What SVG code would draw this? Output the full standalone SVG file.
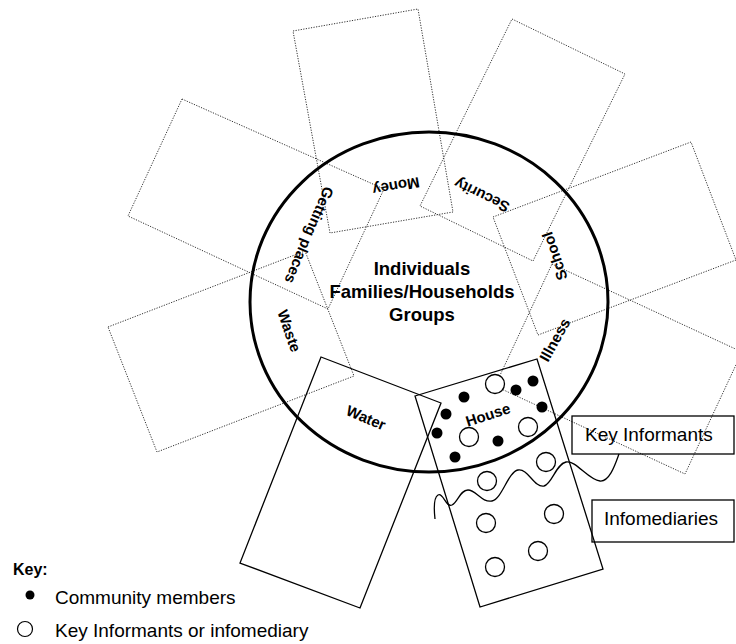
<svg xmlns="http://www.w3.org/2000/svg" width="736" height="644" viewBox="0 0 736 644">
<style>
.dot{fill:none;stroke:#333;stroke-width:1;stroke-dasharray:1.2 1.4}
.solid{fill:none;stroke:#000;stroke-width:1.3}
.lbl{font-family:"Liberation Sans",Arial,sans-serif;font-weight:bold;font-size:15px;text-anchor:middle;fill:#000}
.ctr{font-family:"Liberation Sans",Arial,sans-serif;font-weight:bold;font-size:18.5px;text-anchor:middle;fill:#000}
.txt{font-family:"Liberation Sans",Arial,sans-serif;font-size:19px;fill:#000}
.cm{fill:#000}
.ki{fill:#fff;stroke:#000;stroke-width:1.3}
</style>
<rect width="736" height="644" fill="#fff"/>
<g id="money"><polygon class="dot" points="293,31 418,9 453,212 330,233"/><text class="lbl" transform="translate(396,186) rotate(170)" y="5">Money</text></g>
<g id="security"><polygon class="dot" points="512,19 625,74 533,261 420,206"/><text class="lbl" transform="translate(482,195) rotate(206)" y="5">Security</text></g>
<g id="school"><polygon class="dot" points="493,217 691,142 736,260 538,335"/><text class="lbl" transform="translate(555,256) rotate(-109)" y="5">School</text></g>
<g id="illness"><polygon class="dot" points="552,264 742,352 685,474 495,386"/><text class="lbl" transform="translate(555,340) rotate(-61)" y="5">Illness</text></g>
<g id="getting-places"><polygon class="dot" points="182,99 384,189 328,309 128,216"/><text class="lbl" transform="translate(309,235) rotate(113)" y="5">Getting places</text></g>
<g id="waste"><polygon class="dot" points="108,327 305,251 354,376 157,452"/><text class="lbl" transform="translate(289,331) rotate(71)" y="5">Waste</text></g>
<g id="community"><ellipse cx="429" cy="302" rx="179" ry="170" fill="none" stroke="#000" stroke-width="3"/>
<text class="ctr" x="422" y="275">Individuals</text>
<text class="ctr" x="422" y="298">Families/Households</text>
<text class="ctr" x="422" y="321">Groups</text></g>
<g id="water"><polygon class="solid" points="321,357 441,403 360,608 240,563"/><text class="lbl" transform="translate(366,418) rotate(23)" y="5">Water</text></g>
<g id="house"><polygon class="solid" points="415,396 537,359 603,569 480,607"/>
<g id="members">
<circle class="cm" cx="464" cy="397" r="5.5"/><circle class="cm" cx="446" cy="414" r="5.5"/><circle class="cm" cx="437" cy="433" r="5.5"/><circle class="cm" cx="455" cy="457" r="5.5"/><circle class="cm" cx="498" cy="441" r="5.5"/><circle class="cm" cx="516" cy="390" r="5.5"/><circle class="cm" cx="533" cy="381" r="5.5"/><circle class="cm" cx="542" cy="407" r="5.5"/>
</g>
<g id="informants">
<circle class="ki" cx="495" cy="384" r="9.5"/><circle class="ki" cx="469" cy="437" r="9.5"/><circle class="ki" cx="528" cy="427" r="9.5"/><circle class="ki" cx="546" cy="462" r="9.5"/><circle class="ki" cx="487" cy="481" r="9.5"/><circle class="ki" cx="554" cy="514" r="9.5"/><circle class="ki" cx="486" cy="523" r="9.5"/><circle class="ki" cx="538" cy="551" r="9.5"/><circle class="ki" cx="495" cy="567" r="9.5"/>
</g>
<text class="lbl" transform="translate(488,415) rotate(-18)" y="5">House</text></g>
<g id="key-informants"><rect class="solid" x="572" y="416" width="162" height="38"/><text class="txt" x="585" y="441">Key Informants</text></g>
<g id="infomediaries"><rect class="solid" x="592" y="500" width="142" height="42"/><text class="txt" x="604" y="525">Infomediaries</text></g>
<g id="connectors"><path class="solid" d="M435,519 C434,510 433,498 438,495 C443,492 446,508 452,505 C458,502 460,490 468,490 C476,490 482,503 492,501 C502,499 508,472 518,470 C528,468 534,488 544,486 C552,484 556,464 566,462 C576,460 588,480 600,481 C610,482 616,462 619,454"/></g>
<g id="key">
<text class="txt" x="13" y="575" style="font-weight:bold;font-size:16px">Key:</text>
<circle class="cm" cx="30" cy="595" r="4.5"/>
<text class="txt" x="55" y="604">Community members</text>
<circle cx="25" cy="629" r="7.5" fill="#fff" stroke="#000" stroke-width="1.2"/>
<text class="txt" x="55" y="637">Key Informants or infomediary</text>
</g>
</svg>
